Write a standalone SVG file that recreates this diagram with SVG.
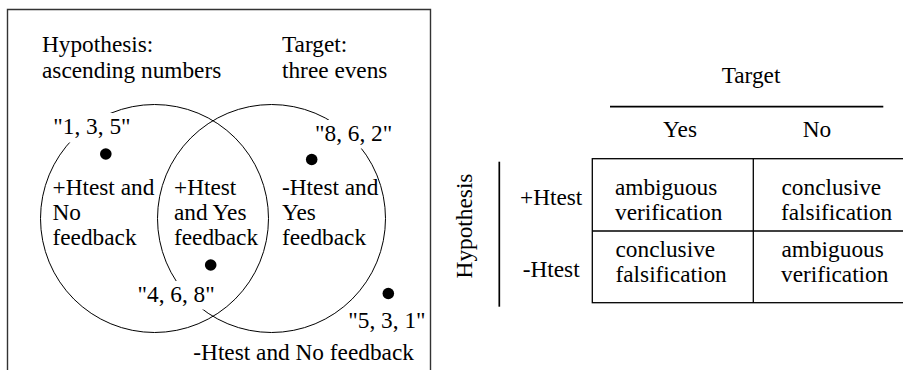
<svg xmlns="http://www.w3.org/2000/svg" width="903" height="370" viewBox="0 0 903 370">
<style>
text{font-family:"Liberation Serif","Times New Roman",serif;font-size:23.3px;fill:#000}
.c{fill:none;stroke:#000;stroke-width:1}
.bg{fill:#fff;stroke:none}
.dot{fill:#000}
.ln{stroke:#000;stroke-width:1.3;fill:none}
.thick{stroke:#000;stroke-width:1.7;fill:none}
.mid{text-anchor:middle}
</style>
<rect width="903" height="370" fill="#fff"/>
<g id="frame">
<path d="M7.5,372 V9.5 H430.5 V372" fill="none" stroke="#333" stroke-width="1.4"/>
</g>
<g id="venn">
<g id="titles">
<text x="42" y="52">Hypothesis:</text>
<text x="42" y="78">ascending numbers</text>
<text x="282" y="52">Target:</text>
<text x="282" y="78">three evens</text>
</g>
<g id="circles">
<circle class="c" cx="154.5" cy="218.5" r="114"/>
<circle class="c" cx="271.5" cy="218.5" r="114"/>
</g>
<g id="region-left">
<text x="52.5" y="195">+Htest and</text>
<text x="52.5" y="220">No</text>
<text x="52.5" y="245">feedback</text>
</g>
<g id="region-middle">
<text x="174" y="195">+Htest</text>
<text x="174" y="220">and Yes</text>
<text x="174" y="245">feedback</text>
</g>
<g id="region-right">
<text x="282" y="195">-Htest and</text>
<text x="282" y="220">Yes</text>
<text x="282" y="245">feedback</text>
</g>
<g id="region-outside">
<text x="193.3" y="360">-Htest and No feedback</text>
</g>
<g id="ex-135">
<rect class="bg" x="50" y="113" width="81" height="29.5"/>
<text x="53.3" y="133.5">"1, 3, 5"</text>
<circle class="dot" cx="105.8" cy="154" r="5.8"/>
</g>
<g id="ex-862">
<rect class="bg" x="312" y="120" width="82" height="28.5"/>
<text x="315" y="140.7">"8, 6, 2"</text>
<circle class="dot" cx="311.7" cy="159.5" r="5.8"/>
</g>
<g id="ex-468">
<rect class="bg" x="135" y="281" width="80" height="28.5"/>
<text x="137.5" y="302">"4, 6, 8"</text>
<circle class="dot" cx="210.7" cy="265" r="5.8"/>
</g>
<g id="ex-531">
<text x="348.3" y="328">"5, 3, 1"</text>
<circle class="dot" cx="388.3" cy="293.5" r="5.8"/>
</g>
</g>
<g id="table">
<g id="col-header">
<text class="mid" x="751" y="83.3">Target</text>
<line class="thick" x1="610" y1="106.7" x2="883.3" y2="106.7"/>
<text class="mid" x="680" y="137.3">Yes</text>
<text class="mid" x="817" y="137.3">No</text>
</g>
<g id="row-header">
<text class="mid" transform="translate(472,226) rotate(-90)">Hypothesis</text>
<line class="thick" x1="499.3" y1="161.7" x2="499.3" y2="306.7"/>
<text x="520" y="205">+Htest</text>
<text x="522.7" y="276.7">-Htest</text>
</g>
<g id="grid">
<rect class="ln" x="592.3" y="158.7" width="322" height="144"/>
<line class="ln" x1="753.3" y1="158.7" x2="753.3" y2="302.7"/>
<line class="ln" x1="592.3" y1="231" x2="914" y2="231"/>
</g>
<g id="cell-yes-plus">
<text x="615" y="195">ambiguous</text>
<text x="615" y="220">verification</text>
</g>
<g id="cell-no-plus">
<text x="781.5" y="195">conclusive</text>
<text x="781" y="220">falsification</text>
</g>
<g id="cell-yes-minus">
<text x="615.5" y="256.7">conclusive</text>
<text x="615.5" y="281.7">falsification</text>
</g>
<g id="cell-no-minus">
<text x="781.5" y="256.7">ambiguous</text>
<text x="781" y="281.7">verification</text>
</g>
</g>
</svg>
